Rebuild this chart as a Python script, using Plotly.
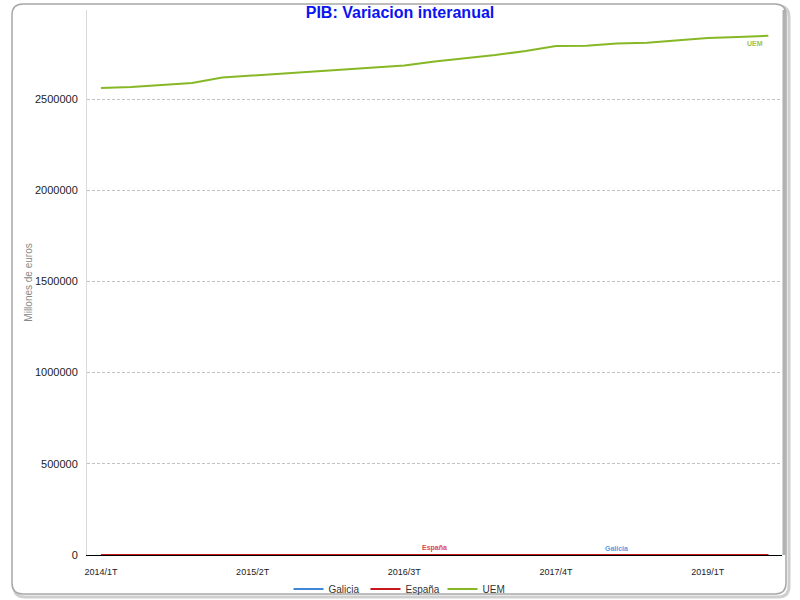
import plotly.graph_objects as go

quarters = [f"{y}/{q}T" for y in range(2014, 2020) for q in range(1, 5)][:23]

uem = [2560000, 2566000, 2577000, 2588000, 2618000, 2629000, 2640000, 2651000,
       2664000, 2673000, 2684000, 2706000, 2722000, 2741000, 2763000, 2790000,
       2792000, 2804000, 2808000, 2823000, 2834000, 2840000, 2847000]
espana = [0.4, 1.0, 1.6, 2.1, 2.7, 3.2, 3.6, 3.7, 3.4, 3.2, 3.0, 2.9,
          3.0, 3.0, 3.0, 3.1, 2.8, 2.6, 2.4, 2.2, 2.1, 2.0, 1.9]
galicia = [0.3, 0.8, 1.3, 1.9, 2.5, 3.0, 3.3, 3.5, 3.3, 3.1, 3.0, 2.9,
           3.1, 3.2, 3.2, 3.3, 3.0, 2.7, 2.5, 2.4, 2.2, 2.0, 1.9]
tick_idx = [0, 5, 10, 15, 20]

C_GAL = "#3f86d8"
C_ESP = "#c8161d"
C_UEM = "#86b826"

fig = go.Figure()
fig.add_trace(go.Scatter(x=list(range(23)), y=galicia, mode="lines", name="Galicia",
                         line=dict(color=C_GAL, width=2)))
fig.add_trace(go.Scatter(x=list(range(23)), y=espana, mode="lines", name="España",
                         line=dict(color=C_ESP, width=2)))
fig.add_trace(go.Scatter(x=list(range(23)), y=uem, mode="lines", name="UEM",
                         line=dict(color=C_UEM, width=2)))

# point labels
fig.add_annotation(x=11, y=espana[11], text="<b>España</b>", showarrow=False, yshift=7,
                   font=dict(size=7, color="#e0474c"))
fig.add_annotation(x=17, y=galicia[17], text="<b>Galicia</b>", showarrow=False, yshift=7,
                   font=dict(size=7, color="#5b9ae0"))
fig.add_annotation(x=22, y=uem[22], text="<b>UEM</b>", showarrow=False, yshift=-8,
                   xanchor="right", xshift=-3, font=dict(size=7, color="#9cc34a"))

# outer rounded frame (paper coords from pixel positions)
L, R, T, B = 87, 782, 10, 555
def px(x):
    return (x - L) / (R - L)
def py(y):
    return (B - y) / (B - T)

def rounded(x0, y0, x1, y1, r):
    return (f"M {px(x0 + r)},{py(y0)} L {px(x1 - r)},{py(y0)} "
            f"Q {px(x1)},{py(y0)} {px(x1)},{py(y0 + r)} "
            f"L {px(x1)},{py(y1 - r)} Q {px(x1)},{py(y1)} {px(x1 - r)},{py(y1)} "
            f"L {px(x0 + r)},{py(y1)} Q {px(x0)},{py(y1)} {px(x0)},{py(y1 - r)} "
            f"L {px(x0)},{py(y0 + r)} Q {px(x0)},{py(y0)} {px(x0 + r)},{py(y0)} Z")

shapes = [
    dict(type="path", xref="paper", yref="paper", path=rounded(14, 6, 789, 597, 11),
         line=dict(color="#cfcfcf", width=3), layer="below"),
    dict(type="path", xref="paper", yref="paper", path=rounded(12, 4, 786, 594, 11),
         line=dict(color="#a8a8a8", width=1.5), fillcolor="white", layer="below"),
    dict(type="line", xref="paper", yref="paper", x0=px(784), x1=px(784), y0=py(10), y1=py(555),
         line=dict(color="#b0b0b0", width=3), layer="below"),
]

fig.update_layout(
    width=800, height=600,
    paper_bgcolor="white", plot_bgcolor="white",
    margin=dict(l=L, r=800 - R, t=T, b=600 - B, autoexpand=False),
    font=dict(family="Liberation Sans, Arial, sans-serif", color="#333"),
    title=dict(text="<b>PIB: Variacion interanual</b>", x=0.5, xref="container",
               y=1 - 12 / 600, yref="container", yanchor="middle", xanchor="center",
               font=dict(size=16, color="#0a14f0")),
    shapes=shapes,
    showlegend=True,
    legend=dict(orientation="h", x=0.505, xref="container", xanchor="center",
                y=1 - 589 / 600, yref="container", yanchor="middle",
                font=dict(size=10, color="#333"), itemwidth=30, entrywidth=32,
                bgcolor="rgba(0,0,0,0)"),
    xaxis=dict(range=[-0.46, 22.45], tickmode="array", tickvals=tick_idx,
               ticktext=[quarters[i] for i in tick_idx], showgrid=False,
               showline=True, linecolor="black", linewidth=1, ticks="",
               ticklabelstandoff=8, automargin=False,
               tickfont=dict(size=9, color="#222"), zeroline=False),
    yaxis=dict(range=[0, 2988000], tickvals=[0, 500000, 1000000, 1500000, 2000000, 2500000],
               ticktext=["0", "500000", "1000000", "1500000", "2000000", "2500000"],
               showgrid=True, gridcolor="#c2c2c2", griddash="3px,2px", gridwidth=1,
               zeroline=False, showline=True, linecolor="#d8d8d8", ticks="",
               ticklabelstandoff=6, automargin=False,
               tickfont=dict(size=11, color="#222"),
               title=dict(text="Millones de euros", font=dict(size=10, color="#888"), standoff=0)),
)

fig.write_html("out.html", config={"displayModeBar": False},
               post_script="document.body.style.margin='0';")
